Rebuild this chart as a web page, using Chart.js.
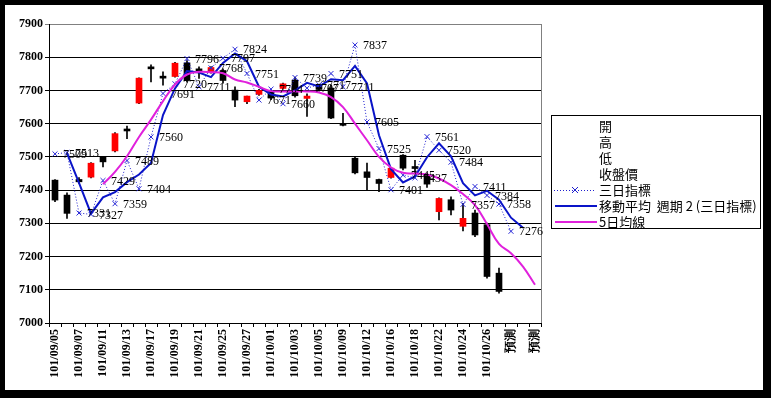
<!DOCTYPE html>
<html>
<head>
<meta charset="utf-8">
<script src="https://cdn.jsdelivr.net/npm/chart.js@4.4.1/dist/chart.umd.min.js"></script>
<style>
    html, body { margin: 0; padding: 0; background: #000; }
    #wrap { width: 771px; height: 398px; }
</style>
</head>
<body>
<div id="wrap"><canvas id="stockChart" width="771" height="398"></canvas></div>
<script>
// Categories (trading days + forecast slots)
const categories = [
    '101/09/05','101/09/06','101/09/07','101/09/10','101/09/11','101/09/12','101/09/13','101/09/14',
    '101/09/17','101/09/18','101/09/19','101/09/20','101/09/21','101/09/24','101/09/25','101/09/26',
    '101/09/27','101/09/28','101/10/01','101/10/02','101/10/03','101/10/04','101/10/05','101/10/08',
    '101/10/09','101/10/11','101/10/12','101/10/15','101/10/16','101/10/17','101/10/18','101/10/19',
    '101/10/22','101/10/23','101/10/24','101/10/25','101/10/26','101/10/29','預測','預測','預測'
];

// OHLC
const openVals  = [7430,7385,7432,7439,7500,7518,7582,7662,7768,7741,7742,7783,7761,7756,7760,7701,7666,7688,7697,7706,7731,7676,7712,7707,7597,7496,7455,7432,7438,7505,7467,7446,7335,7371,7291,7331,7296,7150,null,null,null];
const highVals  = [7432,7392,7438,7483,7502,7573,7593,7738,7777,7756,7785,7790,7771,7772,7765,7711,7683,7703,7700,7722,7740,7690,7716,7716,7631,7499,7481,7433,7468,7507,7490,7450,7377,7380,7360,7340,7301,7165,null,null,null];
const lowVals   = [7365,7315,7420,7437,7470,7515,7555,7660,7726,7716,7740,7725,7736,7752,7722,7651,7660,7685,7672,7704,7680,7622,7698,7615,7593,7449,7401,7395,7436,7461,7450,7408,7310,7325,7277,7260,7135,7090,null,null,null];
const closeVals = [7370,7330,7425,7481,7485,7570,7578,7737,7765,7737,7782,7730,7759,7769,7730,7671,7683,7700,7677,7720,7684,7683,7703,7617,7595,7452,7438,7420,7466,7466,7465,7418,7375,7340,7315,7265,7140,7095,null,null,null];

// 三日指標
const sanriVals = [7509,7513,7331,7327,7429,7359,7489,7404,7560,7691,7720,7796,7711,7768,7797,7824,7751,7671,7704,7660,7739,7707,7717,7751,7711,7837,7605,7525,7401,7445,7437,7561,7520,7484,7357,7411,7384,7358,7276,null,null];
// 移動平均 週期 2 (三日指標)
const maTwoVals = [null,7511,7422,7329,7378,7394,7424,7447,7482,7626,7706,7758,7754,7740,7783,7811,7788,7711,7688,7682,7700,7723,7712,7734,7731,7774,7721,7565,7463,7423,7441,7499,7541,7502,7421,7384,7398,7371,7317,7287,null];
// 5日均線
const maFiveVals = [null,null,null,null,7418,7455,7502,7560,7612,7668,7718,7748,7756,7755,7752,7733,7724,7711,7698,7697,7697,7697,7694,7680,7650,7600,7550,7500,7468,7452,7450,7447,7435,7415,7388,7355,7298,7238,7210,7170,7115];

const yTicks = [7000,7100,7200,7300,7400,7500,7600,7700,7800,7900];
const seriesNames = ['開','高','低','收盤價','三日指標','移動平均  週期 2 (三日指標)','5日均線'];

const wickData = lowVals.map((l, i) => l == null ? null : [l, highVals[i]]);
const bodyData = openVals.map((o, i) => o == null ? null : [o, closeVals[i]]);
const bodyColors = openVals.map((o, i) => closeVals[i] > o ? '#ff0000' : '#000000');

// White panel behind everything
const panelBg = {
    id: 'panelBg',
    beforeDraw(chart) {
        const ctx = chart.ctx;
        ctx.save();
        ctx.fillStyle = '#ffffff';
        ctx.fillRect(5, 5, 758, 385);
        ctx.restore();
    },
    beforeDatasetsDraw(chart) {
        // gray right border of plot area
        const a = chart.chartArea;
        const ctx = chart.ctx;
        ctx.save();
        ctx.strokeStyle = '#808080';
        ctx.lineWidth = 1;
        ctx.beginPath();
        ctx.moveTo(Math.round(a.right) + 0.5, a.top);
        ctx.lineTo(Math.round(a.right) + 0.5, a.bottom);
        ctx.stroke();
        ctx.restore();
    }
};

// value labels for 三日指標
const pointLabels = {
    id: 'pointLabels',
    afterDatasetsDraw(chart) {
        const meta = chart.getDatasetMeta(2);
        const ctx = chart.ctx;
        ctx.save();
        ctx.font = '12px "Liberation Serif"';
        ctx.fillStyle = '#000';
        ctx.textBaseline = 'middle';
        meta.data.forEach((pt, i) => {
            if (sanriVals[i] == null) return;
            ctx.fillText(String(sanriVals[i]), pt.x + 8, pt.y + 1);
        });
        ctx.restore();
    }
};

// boxed legend on the right
const boxLegend = {
    id: 'boxLegend',
    afterDraw(chart) {
        const ctx = chart.ctx;
        ctx.save();
        ctx.strokeStyle = '#000';
        ctx.lineWidth = 1;
        ctx.strokeRect(551.5, 115.5, 209, 113);
        ctx.font = '13px "Noto Sans CJK TC"';
        ctx.fillStyle = '#000';
        ctx.textBaseline = 'middle';
        seriesNames.forEach((name, i) => {
            ctx.fillText(name, 599, 126 + i * 16);
        });
        // 三日指標 symbol
        let y = 126 + 4 * 16;
        ctx.strokeStyle = '#1f1fd0';
        ctx.setLineDash([1, 2]);
        ctx.beginPath();
        ctx.moveTo(554, y + 0.5);
        ctx.lineTo(596, y + 0.5);
        ctx.stroke();
        ctx.setLineDash([]);
        ctx.beginPath();
        ctx.moveTo(572, y - 3); ctx.lineTo(578, y + 3);
        ctx.moveTo(578, y - 3); ctx.lineTo(572, y + 3);
        ctx.stroke();
        // moving average symbol
        y = 126 + 5 * 16;
        ctx.strokeStyle = '#0a14c8';
        ctx.lineWidth = 2;
        ctx.beginPath();
        ctx.moveTo(555, y); ctx.lineTo(597, y);
        ctx.stroke();
        // 5日均線 symbol
        y = 126 + 6 * 16;
        ctx.strokeStyle = '#e020dc';
        ctx.beginPath();
        ctx.moveTo(555, y); ctx.lineTo(597, y);
        ctx.stroke();
        ctx.restore();
    }
};

const ctx = document.getElementById('stockChart').getContext('2d');

new Chart(ctx, {
    type: 'bar',
    data: {
        labels: categories,
        datasets: [
            {
                label: '高低',
                data: wickData,
                backgroundColor: '#000',
                barThickness: 1,
                grouped: false,
                order: 11
            },
            {
                label: '開收',
                data: bodyData,
                backgroundColor: bodyColors,
                barThickness: 6,
                minBarLength: 2,
                grouped: false,
                order: 10
            },
            {
                type: 'line',
                label: seriesNames[4],
                data: sanriVals,
                borderColor: '#1f1fd0',
                borderWidth: 1,
                borderDash: [1, 2],
                pointStyle: 'crossRot',
                pointRadius: 3.5,
                pointBorderColor: '#2a2ad8',
                pointBorderWidth: 1,
                tension: 0,
                order: 2
            },
            {
                type: 'line',
                label: seriesNames[5],
                data: maTwoVals,
                borderColor: '#0a14c8',
                borderWidth: 2,
                pointRadius: 0,
                tension: 0,
                order: 1
            },
            {
                type: 'line',
                label: seriesNames[6],
                data: maFiveVals,
                borderColor: '#e020dc',
                borderWidth: 2,
                pointRadius: 0,
                tension: 0.4,
                order: 0
            }
        ]
    },
    options: {
        responsive: false,
        animation: false,
        events: [],
        layout: {
            padding: { left: 5, right: 230, top: 24, bottom: 0 }
        },
        plugins: {
            legend: { display: false },
            tooltip: { enabled: false }
        },
        scales: {
            x: {
                offset: true,
                grid: {
                    offset: true,
                    drawOnChartArea: false,
                    drawTicks: true,
                    tickLength: 4,
                    color: '#000'
                },
                border: { color: '#000' },
                ticks: {
                    autoSkip: false,
                    minRotation: 90,
                    maxRotation: 90,
                    padding: 2,
                    color: '#000',
                    font: { family: '"Liberation Serif"', size: 12, weight: 'bold' },
                    callback: (val, i) => i % 2 === 0 ? categories[i] : ''
                },
                afterFit: (scale) => { scale.height = 75; }
            },
            y: {
                min: yTicks[0],
                max: yTicks[yTicks.length - 1],
                afterBuildTicks: (scale) => { scale.ticks = yTicks.map(v => ({ value: v })); },
                grid: {
                    color: (c) => (c.tick && c.tick.value === 7900) ? '#808080' : '#000',
                    tickLength: 4
                },
                border: { color: '#000' },
                ticks: {
                    padding: 2,
                    color: '#000',
                    font: { family: '"Liberation Serif"', size: 12, weight: 'bold' },
                    callback: (v) => String(v)
                },
                afterFit: (scale) => { scale.width = 44; }
            }
        }
    },
    plugins: [panelBg, pointLabels, boxLegend]
});
</script>
</body>
</html>
